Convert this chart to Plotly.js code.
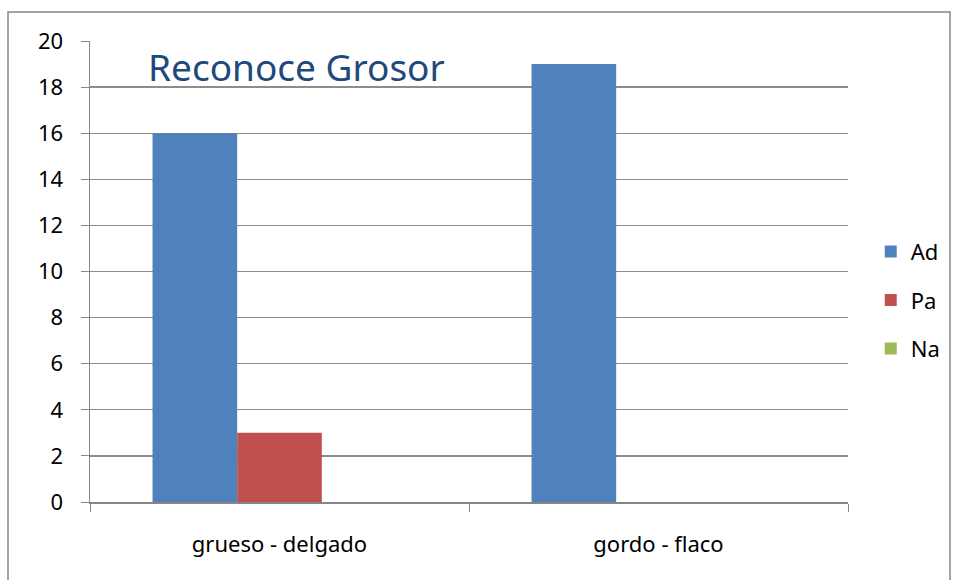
<!DOCTYPE html>
<html>
<head>
<meta charset="utf-8">
<script src="https://cdn.plot.ly/plotly-3.0.1.min.js"></script>
<style>
html,body{margin:0;padding:0;background:#fff;}
#chart{width:956px;height:580px;}
</style>
</head>
<body>
<div id="chart"></div>
<script>
const categories = ["grueso - delgado", "gordo - flaco"];
const seriesNames = ["Ad", "Pa", "Na"];
const adValues = [16, 19];
const paValues = [3, 0];
const naValues = [0, 0];
const yTicks = [0, 2, 4, 6, 8, 10, 12, 14, 16, 18, 20];
const colors = ["#4F81BD", "#C0504D", "#9BBB59"];

const allValues = [adValues, paValues, naValues];
const traces = seriesNames.map((name, i) => ({
  type: "bar",
  name: name,
  x: categories,
  y: allValues[i],
  marker: {color: colors[i]},
  legendgroup: "g" + i,
  hoverinfo: "none"
}));

const font = "Noto Sans, Lato, DejaVu Sans, sans-serif";

const layout = {
  width: 956,
  height: 580,
  margin: {l: 90, r: 108, t: 41, b: 78, autoexpand: false},
  paper_bgcolor: "#fff",
  plot_bgcolor: "#fff",
  barmode: "group",
  bargap: 0.33,
  bargroupgap: 0,
  font: {family: font, size: 22, color: "#000"},
  title: {
    text: "Reconoce Grosor",
    font: {family: font, size: 37, color: "#1F497D"},
    xref: "container", yref: "container",
    x: 148/956, xanchor: "left",
    y: 1 - 68/580, yanchor: "middle"
  },
  xaxis: {
    type: "category",
    showgrid: false,
    showline: true,
    linecolor: "#868686",
    linewidth: 1.5,
    ticks: "outside",
    tickson: "boundaries",
    ticklen: 8,
    tickcolor: "#868686",
    ticklabelstandoff: 22,
    tickfont: {family: font, size: 22, color: "#000"},
    zeroline: false,
    automargin: false,
    fixedrange: true
  },
  yaxis: {
    range: [0, 20],
    tickvals: yTicks,
    ticktext: yTicks.map(String),
    showgrid: true,
    gridcolor: "#8C8C8C",
    gridwidth: 1.3,
    showline: true,
    linecolor: "#868686",
    linewidth: 1.5,
    ticks: "outside",
    ticklen: 8,
    tickcolor: "#868686",
    ticklabelstandoff: 13,
    tickfont: {family: font, size: 22, color: "#000"},
    zeroline: false,
    automargin: false,
    fixedrange: true
  },
  showlegend: true,
  legend: {
    x: 1.03, xanchor: "left",
    y: 0.438, yanchor: "middle",
    traceorder: "grouped",
    tracegroupgap: 17,
    font: {family: font, size: 22, color: "#000"},
    bgcolor: "rgba(0,0,0,0)"
  },
  shapes: [{
    type: "rect",
    xref: "paper", yref: "paper",
    x0: (8 - 90)/758, x1: (950 - 90)/758,
    y0: -(590 - 502)/461, y1: (502 - 12)/461,
    line: {color: "#868686", width: 1.5},
    fillcolor: "rgba(0,0,0,0)",
    layer: "below"
  }]
};

Plotly.newPlot("chart", traces, layout, {displayModeBar: false, staticPlot: true});
</script>
</body>
</html>
